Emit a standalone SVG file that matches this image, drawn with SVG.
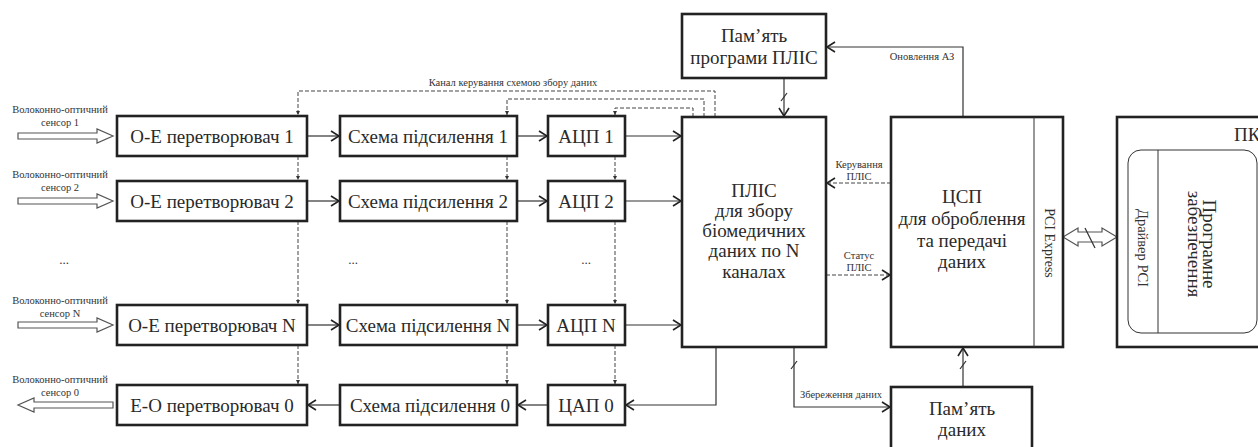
<svg xmlns="http://www.w3.org/2000/svg" width="1258" height="447" viewBox="0 0 1258 447">
<style>
.box{fill:#fff;stroke:#222;stroke-width:2.6}
.thin{fill:none;stroke:#333;stroke-width:1}
.ln{fill:none;stroke:#333;stroke-width:1.2}
.dash{fill:none;stroke:#444;stroke-width:1;stroke-dasharray:4 2}
.hollow{fill:#fff;stroke:#555;stroke-width:1.2}
.t{font-family:"Liberation Serif","DejaVu Serif",serif;font-size:19px;fill:#2a2a2a;text-anchor:middle}
.s{font-family:"Liberation Serif","DejaVu Serif",serif;font-size:10.5px;fill:#333;text-anchor:middle}
.r{font-family:"Liberation Serif","DejaVu Serif",serif;font-size:14.5px;fill:#333;text-anchor:middle}
</style>
<defs>
<marker id="ar" markerUnits="userSpaceOnUse" markerWidth="12" markerHeight="12" viewBox="-10 -6 12 12" refX="0" refY="0" orient="auto">
<path d="M-8,-5 L0,0 L-8,5" fill="none" stroke="#222" stroke-width="1.6"/>
</marker>
<marker id="da" markerUnits="userSpaceOnUse" markerWidth="6" markerHeight="6" viewBox="-5 -3 6 6" refX="0" refY="0" orient="auto">
<path d="M-4,-2 L0,0 L-4,2 Z" fill="#333"/>
</marker>
</defs>

<g id="connectors">
<polygon class="hollow" points="18,133 97,133 97,129 113,136 97,143 97,139 18,139"/>
<polygon class="hollow" points="18,198 97,198 97,194 113,201 97,208 97,204 18,204"/>
<polygon class="hollow" points="18,322 97,322 97,318 113,325 97,332 97,328 18,328"/>
<polygon class="hollow" points="113,402 34,402 34,398 18,405 34,412 34,408 113,408"/>
<line class="ln" x1="307" y1="136" x2="339" y2="136" marker-end="url(#ar)"/>
<line class="ln" x1="517" y1="136" x2="547" y2="136" marker-end="url(#ar)"/>
<line class="ln" x1="625" y1="136" x2="681" y2="136" marker-end="url(#ar)"/>
<line class="ln" x1="307" y1="201" x2="339" y2="201" marker-end="url(#ar)"/>
<line class="ln" x1="517" y1="201" x2="547" y2="201" marker-end="url(#ar)"/>
<line class="ln" x1="625" y1="201" x2="681" y2="201" marker-end="url(#ar)"/>
<line class="ln" x1="307" y1="325" x2="339" y2="325" marker-end="url(#ar)"/>
<line class="ln" x1="517" y1="325" x2="547" y2="325" marker-end="url(#ar)"/>
<line class="ln" x1="625" y1="325" x2="681" y2="325" marker-end="url(#ar)"/>
<line class="ln" x1="340" y1="405" x2="308" y2="405" marker-end="url(#ar)"/>
<line class="ln" x1="548" y1="405" x2="518" y2="405" marker-end="url(#ar)"/>
<polyline class="ln" points="716,347 716,405 626,405" marker-end="url(#ar)"/>
<polyline class="dash" points="715,117 715,91 298,91 298,115" marker-end="url(#da)"/>
<polyline class="dash" points="704,117 704,99 507,99 507,115" marker-end="url(#da)"/>
<polyline class="dash" points="693,117 693,108 615,108 615,115" marker-end="url(#da)"/>
<line class="dash" x1="298" y1="156" x2="298" y2="180" marker-end="url(#da)"/>
<line class="dash" x1="298" y1="221" x2="298" y2="304" marker-end="url(#da)"/>
<line class="dash" x1="298" y1="345" x2="298" y2="384" marker-end="url(#da)"/>
<line class="dash" x1="507" y1="156" x2="507" y2="180" marker-end="url(#da)"/>
<line class="dash" x1="507" y1="221" x2="507" y2="304" marker-end="url(#da)"/>
<line class="dash" x1="507" y1="345" x2="507" y2="384" marker-end="url(#da)"/>
<line class="dash" x1="615" y1="156" x2="615" y2="180" marker-end="url(#da)"/>
<line class="dash" x1="615" y1="221" x2="615" y2="304" marker-end="url(#da)"/>
<line class="dash" x1="615" y1="345" x2="615" y2="384" marker-end="url(#da)"/>
<line class="ln" x1="784" y1="78" x2="784" y2="116" marker-end="url(#ar)"/>
<line class="ln" x1="781" y1="101" x2="787" y2="93"/>
<polyline class="ln" points="963,117 963,47 827,47" marker-end="url(#ar)"/>
<line class="dash" x1="891" y1="183" x2="827" y2="183" marker-end="url(#ar)"/>
<line class="dash" x1="826" y1="275" x2="890" y2="275" marker-end="url(#ar)"/>
<polyline class="ln" points="794,347 794,407 890,407" marker-end="url(#ar)"/>
<line class="ln" x1="791" y1="369" x2="797" y2="361"/>
<line class="ln" x1="963" y1="387" x2="963" y2="348" marker-end="url(#ar)"/>
<line class="ln" x1="960" y1="369" x2="966" y2="361"/>
<polygon class="hollow" points="1063,237 1078,228 1078,232 1102,232 1102,228 1117,237 1102,246 1102,242 1078,242 1078,246"/>
<line class="ln" x1="1085" y1="228" x2="1095" y2="248"/>
</g>

<g id="labels">
<text class="s" x="60" y="113">Волоконно-оптичний</text><text class="s" x="60" y="126">сенсор 1</text>
<text class="s" x="60" y="178">Волоконно-оптичний</text><text class="s" x="60" y="191">сенсор 2</text>
<text class="s" x="60" y="304">Волоконно-оптичний</text><text class="s" x="60" y="317">сенсор N</text>
<text class="s" x="60" y="383">Волоконно-оптичний</text><text class="s" x="60" y="396">сенсор 0</text>
<text class="s" x="513" y="86">Канал керування схемою збору даних</text>
<text class="s" x="922" y="60">Оновлення АЗ</text>
<text class="s" x="859" y="168">Керування</text><text class="s" x="859" y="180">ПЛІС</text>
<text class="s" x="859" y="259">Статус</text><text class="s" x="859" y="271">ПЛІС</text>
<text class="s" x="841" y="398">Збереження даних</text>
<text class="s" x="64" y="264" style="font-size:13px">...</text>
<text class="s" x="353" y="264" style="font-size:13px">...</text>
<text class="s" x="586" y="264" style="font-size:13px">...</text>
</g>

<g id="oe1"><rect class="box" x="117" y="116" width="190" height="40"/><text class="t" x="212" y="143">О-Е перетворювач 1</text></g>
<g id="oe2"><rect class="box" x="117" y="181" width="190" height="40"/><text class="t" x="212" y="208">О-Е перетворювач 2</text></g>
<g id="oeN"><rect class="box" x="117" y="305" width="190" height="40"/><text class="t" x="212" y="332">О-Е перетворювач N</text></g>
<g id="eo0"><rect class="box" x="117" y="385" width="190" height="40"/><text class="t" x="212" y="412">Е-О перетворювач 0</text></g>

<g id="amp1"><rect class="box" x="340" y="116" width="177" height="40"/><text class="t" x="428" y="143">Схема підсилення 1</text></g>
<g id="amp2"><rect class="box" x="340" y="181" width="177" height="40"/><text class="t" x="428" y="208">Схема підсилення 2</text></g>
<g id="ampN"><rect class="box" x="340" y="305" width="177" height="40"/><text class="t" x="428" y="332">Схема підсилення N</text></g>
<g id="amp0"><rect class="box" x="340" y="385" width="177" height="40"/><text class="t" x="430" y="412">Схема підсилення 0</text></g>

<g id="adc1"><rect class="box" x="548" y="116" width="77" height="40"/><text class="t" x="586" y="143">АЦП 1</text></g>
<g id="adc2"><rect class="box" x="548" y="181" width="77" height="40"/><text class="t" x="586" y="208">АЦП 2</text></g>
<g id="adcN"><rect class="box" x="548" y="305" width="77" height="40"/><text class="t" x="586" y="332">АЦП N</text></g>
<g id="dac0"><rect class="box" x="548" y="385" width="77" height="40"/><text class="t" x="586" y="412">ЦАП 0</text></g>

<g id="fpga"><rect class="box" x="682" y="117" width="144" height="230"/>
<text class="t" x="754" y="197">ПЛІС</text>
<text class="t" x="754" y="217">для збору</text>
<text class="t" x="754" y="237">біомедичних</text>
<text class="t" x="754" y="257">даних по N</text>
<text class="t" x="754" y="278">каналах</text></g>

<g id="fpgamem"><rect class="box" x="682" y="14" width="144" height="64"/>
<text class="t" x="754" y="42">Пам’ять</text>
<text class="t" x="754" y="64">програми ПЛІС</text></g>

<g id="dsp"><rect class="box" x="891" y="117" width="172" height="230"/>
<line class="thin" x1="1034" y1="117" x2="1034" y2="347"/>
<text class="t" x="962" y="203">ЦСП</text>
<text class="t" x="962" y="225">для оброблення</text>
<text class="t" x="962" y="247">та передачі</text>
<text class="t" x="962" y="268">даних</text>
<text class="r" style="font-size:14px" transform="translate(1045,243) rotate(90)">PCI Express</text></g>

<g id="datamem"><rect class="box" x="891" y="387" width="141" height="64"/>
<text class="t" x="962" y="415">Пам’ять</text>
<text class="t" x="962" y="436">даних</text></g>

<g id="pc"><rect class="box" x="1117" y="117" width="160" height="230"/>
<text class="t" x="1234" y="141" style="text-anchor:start">ПК</text>
<rect class="thin" x="1128" y="150" width="129" height="183" rx="13"/>
<line class="thin" x1="1158" y1="150" x2="1158" y2="333"/>
<text class="r" transform="translate(1138,248) rotate(90)">Драйвер PCI</text>
<text class="t" transform="translate(1203,244) rotate(90)">Програмне</text>
<text class="t" transform="translate(1188,244) rotate(90)">забезпечення</text></g>
</svg>
